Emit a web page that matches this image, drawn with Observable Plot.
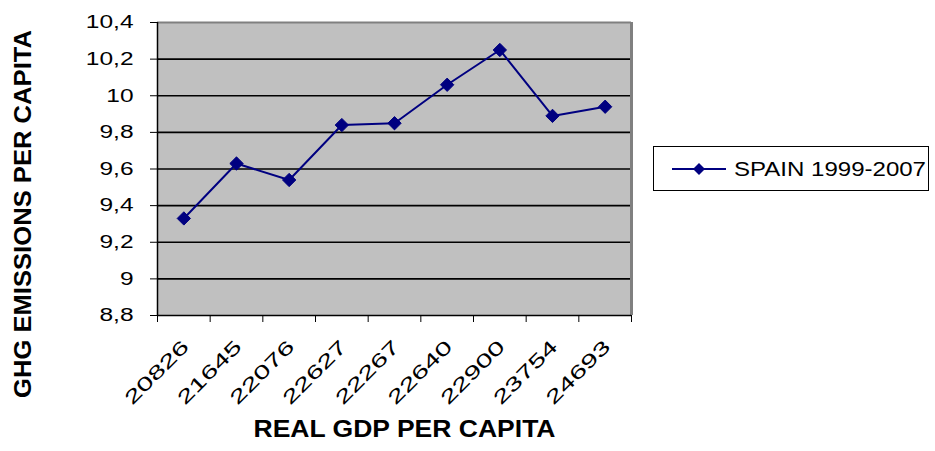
<!DOCTYPE html>
<html>
<head>
<meta charset="utf-8">
<script src="https://cdn.jsdelivr.net/npm/d3@7"></script>
<script src="https://cdn.jsdelivr.net/npm/@observablehq/plot@0.6"></script>
<style>
  body { margin: 0; background: #fff; font-family: "Liberation Sans", Arial, sans-serif; }
  #wrap { position: relative; width: 935px; height: 451px; }
  #legend { position: absolute; left: 653px; top: 146px; width: 276px; height: 45px; border: 1px solid #000; box-sizing: border-box; background: #fff; }
  #legend svg { position: absolute; left: 0; top: 0; }
</style>
</head>
<body>
<div id="wrap"></div>
<script>
const gdpLabels = ["20826", "21645", "22076", "22627", "22267", "22640", "22900", "23754", "24693"];
const ghg = [9.33, 9.63, 9.54, 9.84, 9.85, 10.06, 10.25, 9.89, 9.94];
const yTicks = [8.8, 9.0, 9.2, 9.4, 9.6, 9.8, 10.0, 10.2, 10.4];
const seriesName = "SPAIN 1999-2007";
const yTitle = "GHG EMISSIONS PER CAPITA";
const xTitle = "REAL GDP PER CAPITA";

const data = ghg.map((v, i) => ({i: i + 0.5, label: gdpLabels[i], v}));
const navy = "#000080";
const fmtY = d => String(+d.toFixed(1)).replace(".", ",");

const chart = Plot.plot({
  width: 935,
  height: 451,
  marginLeft: 157,
  marginRight: 304,
  marginTop: 22,
  marginBottom: 136,
  style: {fontFamily: '"Liberation Sans", Arial, sans-serif', fontSize: "17px", color: "#000", background: "#fff"},
  x: {domain: [0, 9]},
  y: {domain: [8.8, 10.4]},
  marks: [
    Plot.frame({fill: "#c0c0c0", stroke: null}),
    Plot.ruleY(yTicks.slice(1, -1), {stroke: "#000", strokeWidth: 1.6}),
    Plot.ruleY([10.4], {stroke: "#808080", strokeWidth: 2}),
    Plot.ruleX([9], {stroke: "#808080", strokeWidth: 3}),
    Plot.ruleX([0], {stroke: "#000", strokeWidth: 1.5}),
    Plot.ruleY([8.8], {stroke: "#000", strokeWidth: 1.5}),
    Plot.axisY({ticks: yTicks, tickFormat: fmtY, tickSize: 7, tickPadding: 17, label: null, fontSize: 18}),
    Plot.axisX({ticks: d3.range(10), tickFormat: () => "", tickSize: 7, label: null}),
    Plot.axisX({ticks: d3.range(9).map(i => i + 0.5), tickFormat: d => gdpLabels[Math.round(d - 0.5)], tickSize: 0, tickPadding: 28, tickRotate: -45, label: null, fontSize: 19, dx: 2}),
    Plot.line(data, {x: "i", y: "v", stroke: navy, strokeWidth: 2}),
    Plot.dot(data, {x: "i", y: "v", symbol: "diamond2", r: 6, fill: navy, stroke: navy, strokeWidth: 1}),
    Plot.text([yTitle], {frameAnchor: "left", textAnchor: "middle", dx: -134, dy: 45, rotate: -90, fontWeight: "bold", fontSize: 24, className: "ytitle"}),
    Plot.text([xTitle], {frameAnchor: "bottom", textAnchor: "middle", dx: 10, dy: 121, fontWeight: "bold", fontSize: 24, className: "xtitle"})
  ]
});

const wrap = document.getElementById("wrap");
wrap.appendChild(chart);

function stretch(sel, factor) {
  chart.querySelectorAll(sel).forEach(t => {
    const w = t.getComputedTextLength();
    if (w > 0) { t.setAttribute("textLength", w * factor); t.setAttribute("lengthAdjust", "spacingAndGlyphs"); }
  });
}
stretch('[aria-label="y-axis tick label"] text', 1.36);
stretch('[aria-label="x-axis tick label"] text', 1.55);
chart.querySelectorAll(".ytitle text").forEach(t => { t.setAttribute("textLength", 368); t.setAttribute("lengthAdjust", "spacingAndGlyphs"); });
chart.querySelectorAll(".xtitle text").forEach(t => { t.setAttribute("textLength", 302); t.setAttribute("lengthAdjust", "spacingAndGlyphs"); });

const legend = document.createElement("div");
legend.id = "legend";
legend.innerHTML = `<svg width="276" height="45">
  <line x1="18" x2="72" y1="22" y2="22" stroke="${navy}" stroke-width="2"></line>
  <path d="M45,16 L51,22 L45,28 L39,22 Z" fill="${navy}"></path>
  <text x="80" y="29" font-size="20" textLength="192" lengthAdjust="spacingAndGlyphs" font-family="Liberation Sans, Arial, sans-serif" fill="#000">${seriesName}</text>
</svg>`;
wrap.appendChild(legend);
</script>
</body>
</html>
